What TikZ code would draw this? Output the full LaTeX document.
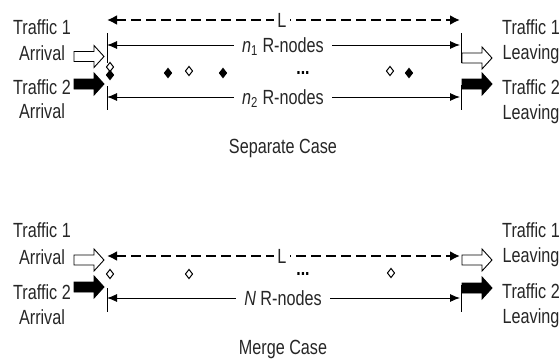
\documentclass[tikz,border=0pt]{standalone}
\usepackage{fontspec}
\setmainfont[FakeStretch=0.79]{Liberation Sans}
\usetikzlibrary{arrows.meta,shapes.geometric}
\definecolor{ink}{gray}{0.15}
\tikzset{
  txt/.style={font=\fontsize{20.5}{22}\selectfont, text=ink, inner sep=0pt, anchor=base},
  dashline/.style={line width=2.2pt, dash pattern=on 10pt off 5pt,
     {Latex[length=10pt,width=10pt]}-{Latex[length=10pt,width=10pt]}},
  dimline/.style={line width=0.9pt, {Latex[length=10pt,width=8pt]}-{Latex[length=10pt,width=8pt]}},
  tickline/.style={line width=0.9pt},
  lab/.style={font=\fontsize{20.5}{22}\selectfont, text=ink, fill=white, inner xsep=8pt, inner ysep=1pt},
  llab/.style={font=\fontsize{20.5}{22}\selectfont, text=ink, fill=white, inner xsep=3pt, inner ysep=1pt},
  wdia/.style={diamond, draw, fill=white, line width=1pt, minimum width=7.5pt, minimum height=9.5pt, inner sep=0pt},
  bdia/.style={diamond, draw, fill=black, line width=1pt, minimum width=7.5pt, minimum height=9.5pt, inner sep=0pt},
  dots/.style={font=\fontsize{20}{20}\selectfont\bfseries, inner sep=0pt, text height=3pt, text depth=0pt, anchor=base},
  wblock/.style={draw, fill=white, line width=0.9pt},
  bblock/.style={draw, fill=black, line width=0.9pt},
}
% block arrow: style, x start, y centre, length
\newcommand\blockarr[4]{%
  \path[#1] (#2,#3-5) -- ++(#4-10,0) -- ++(0,-6) -- (#2+#4,#3) -- (#2+#4-10,#3+11) -- ++(0,-6) -- (#2,#3+5) -- cycle;}
\begin{document}
\begin{tikzpicture}[x=1pt,y=-1pt]
\useasboundingbox (0,0) rectangle (560,359);
% ================= Separate case =================
% left texts
\node[txt] (la1) at (42,34) {Traffic 1};
\node[txt] (la2) at (42,60) {Arrival};
\node[txt] (la3) at (42,94) {Traffic 2};
\node[txt] (la4) at (42,118) {Arrival};
% right texts
\node[txt] (ra1) at (531,34) {Traffic 1};
\node[txt] (ra2) at (531,59) {Leaving};
\node[txt] (ra3) at (531,94) {Traffic 2};
\node[txt] (ra4) at (531,119) {Leaving};
% dashed L
\coordinate (dA) at (107,20);
\coordinate (dB) at (460,20);
\draw[dashline] (dA) -- (dB);
\node[llab] (L1) at (282,20) {L};
% ticks
\coordinate (tl1) at (107,33); \coordinate (tl2) at (107,63);
\coordinate (tl3) at (107,86); \coordinate (tl4) at (107,110);
\coordinate (tr1) at (461,33); \coordinate (tr2) at (461,63);
\coordinate (tr3) at (461,85); \coordinate (tr4) at (461,110);
\draw[tickline] (tl1) -- (tl2);
\draw[tickline] (tl3) -- (tl4);
\draw[tickline] (tr1) -- (tr2);
\draw[tickline] (tr3) -- (tr4);
% n1 / n2 lines
\coordinate (n1a) at (107,45); \coordinate (n1b) at (460,45);
\coordinate (n2a) at (107,97); \coordinate (n2b) at (460,97);
\draw[dimline] (n1a) -- (n1b);
\draw[dimline] (n2a) -- (n2b);
\node[lab] (n1l) at (283,47) {\textit{n}\textsubscript{1} R-nodes};
\node[lab] (n2l) at (283,99) {\textit{n}\textsubscript{2} R-nodes};
% block arrows
\blockarr{wblock}{74}{56.5}{30}
\blockarr{bblock}{74}{84}{30}
\blockarr{wblock}{462}{58}{30}
\blockarr{bblock}{462}{84}{30}
% diamonds
\node[wdia] (d1) at (110,67) {};
\node[bdia] (d2) at (110,75) {};
\node[bdia] (d3) at (168,73) {};
\node[wdia] (d4) at (189,71) {};
\node[bdia] (d5) at (223,73) {};
\node[dots] (dd1) at (303,74) {...};
\node[wdia] (d6) at (390,71) {};
\node[bdia] (d7) at (409,73) {};
\node[txt, anchor=center] (sep) at (283,148) {Separate Case};
% ================= Merge case =================
\node[txt] (lb1) at (42,237) {Traffic 1};
\node[txt] (lb2) at (42,264) {Arrival};
\node[txt] (lb3) at (42,299) {Traffic 2};
\node[txt] (lb4) at (42,324) {Arrival};
\node[txt] (rb1) at (531,237) {Traffic 1};
\node[txt] (rb2) at (531,262) {Leaving};
\node[txt] (rb3) at (531,298) {Traffic 2};
\node[txt] (rb4) at (531,323) {Leaving};
\coordinate (eA) at (107,256);
\coordinate (eB) at (460,256);
\draw[dashline] (eA) -- (eB);
\node[llab] (L2) at (282,256) {L};
\coordinate (ul1) at (107,288); \coordinate (ul2) at (107,312);
\coordinate (ur1) at (461,285); \coordinate (ur2) at (461,312);
\draw[tickline] (ul1) -- (ul2);
\draw[tickline] (ur1) -- (ur2);
\coordinate (Na) at (107,298); \coordinate (Nb) at (460,298);
\draw[dimline] (Na) -- (Nb);
\node[lab] (Nl) at (283,298) {\textit{N} R-nodes};
\blockarr{wblock}{74}{260}{30}
\blockarr{bblock}{74}{287}{30}
\blockarr{wblock}{462}{260}{30}
\blockarr{bblock}{462}{288}{30}
\node[wdia] (e1) at (110,274) {};
\node[wdia] (e2) at (189,274) {};
\node[dots] (dd2) at (303,275) {...};
\node[wdia] (e3) at (391,273) {};
\node[txt, anchor=center] (mer) at (283,349) {Merge Case};
\end{tikzpicture}
\end{document}
